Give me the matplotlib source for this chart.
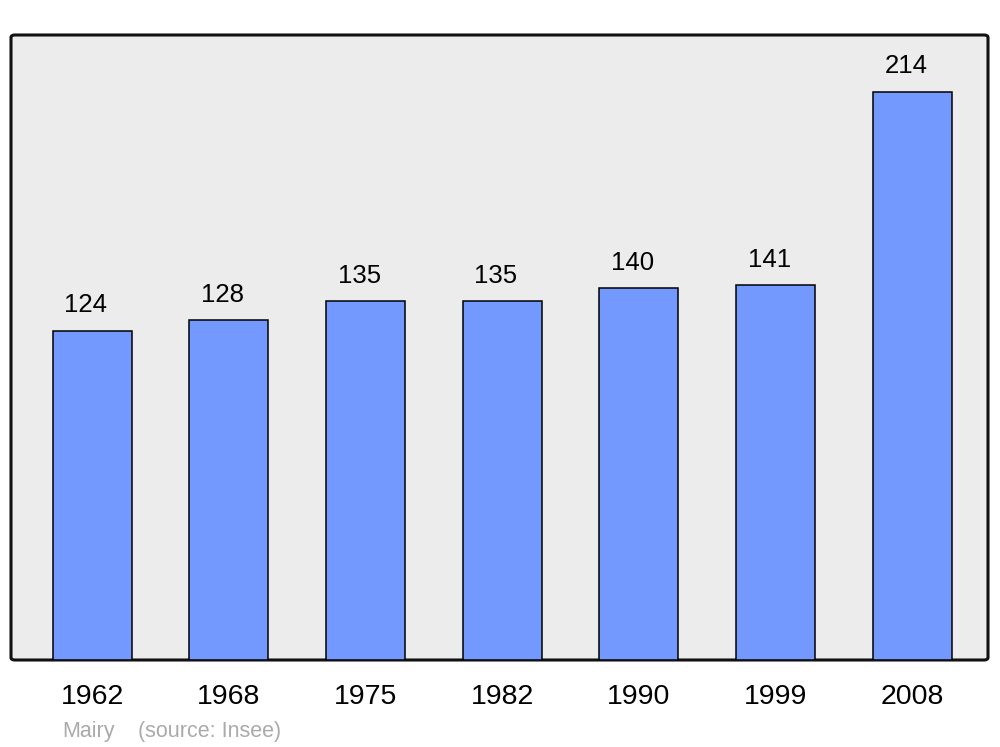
import matplotlib
matplotlib.use("Agg")
import matplotlib.pyplot as plt
from matplotlib.patches import FancyBboxPatch
import numpy as np

plt.rcParams['font.family'] = ['Liberation Sans', 'DejaVu Sans']

# Données
annees = ["1962", "1968", "1975", "1982", "1990", "1999", "2008"]
population = [124, 128, 135, 135, 140, 141, 214]
commune = "Mairy"
source = "(source: Insee)"

fig = plt.figure(figsize=(10, 7.47), dpi=100)
ax = fig.add_axes([0.011, 1 - 660 / 747, 0.977, 625 / 747])

x = np.arange(len(annees))
ax.set_xlim(-0.593, 6.556)
ax.set_ylim(0, 235.3)
ax.set_facecolor('none')

# Fond arrondi
fond = FancyBboxPatch((0, 0), 1, 1, boxstyle="round,pad=0,rounding_size=0.004",
                      transform=ax.transAxes, facecolor='#ececec',
                      edgecolor='#111111', linewidth=2.2, zorder=0, clip_on=False)
ax.add_patch(fond)

ax.bar(x, population, width=0.578, color='#7399ff', edgecolor='black',
       linewidth=1.1, zorder=2)

for xi, v in zip(x, population):
    ax.text(xi - 0.045, v + 9.6, str(v), ha='center', va='center', fontsize=18.5,
            color='black')

for s in ax.spines.values():
    s.set_visible(False)
ax.set_yticks([])
ax.set_xticks(x)
ax.set_xticklabels(annees, fontsize=20.5)
ax.tick_params(axis='x', length=0, pad=17)

fig.text(0.062, 1 - 731 / 747, commune, fontsize=15.5, color='#aaaaaa', va='center')
fig.text(0.138, 1 - 731 / 747, source, fontsize=15.5, color='#aaaaaa', va='center')

fig.savefig("out.png", dpi=100)
